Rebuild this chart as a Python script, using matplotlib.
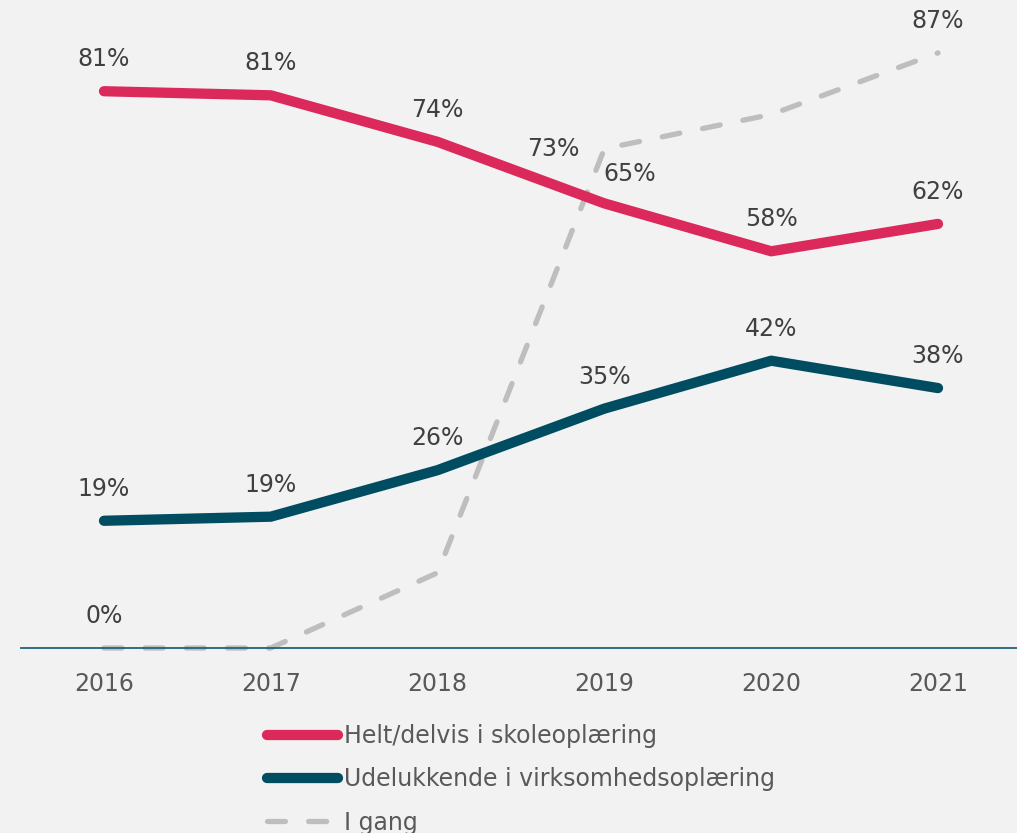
import matplotlib.pyplot as plt

# Data
years = ["2016", "2017", "2018", "2019", "2020", "2021"]
skole = [81.4, 80.8, 74, 65, 58, 62]
virksomhed = [18.6, 19.2, 26, 35, 42, 38]
i_gang = [0, 0, 11, 73, 78, 87]
i_gang_labels = ["0%", "", "", "73%", "", "87%"]

red = "#DC295B"
teal = "#004C61"
grey = "#BEBEBE"
bg = "#F2F2F2"

fig = plt.figure(figsize=(10.17, 8.33), dpi=100, facecolor=bg)
# axes: x from 20.6px to 1021px, bottom at y=648px, 6.84px per %
ax = fig.add_axes([20.6 / 1017, (833 - 648) / 833, 1000.8 / 1017, 94 * 6.84 / 833])
ax.set_facecolor(bg)

x = list(range(len(years)))
ax.plot(x, i_gang, color=grey, lw=3.8, dashes=(3.4, 4.4), dash_capstyle="round",
        label="I gang", zorder=2, clip_on=False)
ax.plot(x, skole, color=red, lw=7.4, solid_capstyle="round", solid_joinstyle="round",
        label="Helt/delvis i skoleoplæring", zorder=3, clip_on=False)
ax.plot(x, virksomhed, color=teal, lw=7.4, solid_capstyle="round", solid_joinstyle="round",
        label="Udelukkende i virksomhedsoplæring", zorder=3, clip_on=False)

lab_kw = dict(fontsize=17, color="#404040", textcoords="offset points", va="center")
for i, v in enumerate(skole):
    if i == 3:
        ax.annotate(f"{round(v)}%", (i, v), xytext=(18, 21), ha="center", **lab_kw)
    else:
        ax.annotate(f"{round(v)}%", (i, v), xytext=(0, 23), ha="center", **lab_kw)
for i, v in enumerate(virksomhed):
    ax.annotate(f"{round(v)}%", (i, v), xytext=(0, 23), ha="center", **lab_kw)
for i, (v, t) in enumerate(zip(i_gang, i_gang_labels)):
    if not t:
        continue
    if i == 3:
        ax.annotate(t, (i, v), xytext=(-18, 0), ha="right", **lab_kw)
    else:
        ax.annotate(t, (i, v), xytext=(0, 23), ha="center", **lab_kw)

ax.set_xlim(-0.5, 5.5)
ax.set_ylim(0, 94)
ax.set_xticks(x)
ax.set_xticklabels(years, fontsize=17, color="#595959")
ax.tick_params(axis="x", length=0, pad=17)
ax.set_yticks([])
for s in ["top", "left", "right"]:
    ax.spines[s].set_visible(False)
ax.spines["bottom"].set_color("#23627A")
ax.spines["bottom"].set_linewidth(1.3)

handles, labels = ax.get_legend_handles_labels()
order = [1, 2, 0]
leg = ax.legend([handles[i] for i in order], [labels[i] for i in order],
                loc="upper center", bbox_to_anchor=(0.5, -0.118), frameon=False,
                fontsize=17, handlelength=3.0, handletextpad=0.25, labelspacing=0.82,
                borderpad=0, borderaxespad=0)
for t in leg.get_texts():
    t.set_color("#595959")

fig.savefig("out.png", dpi=100, facecolor=bg)
